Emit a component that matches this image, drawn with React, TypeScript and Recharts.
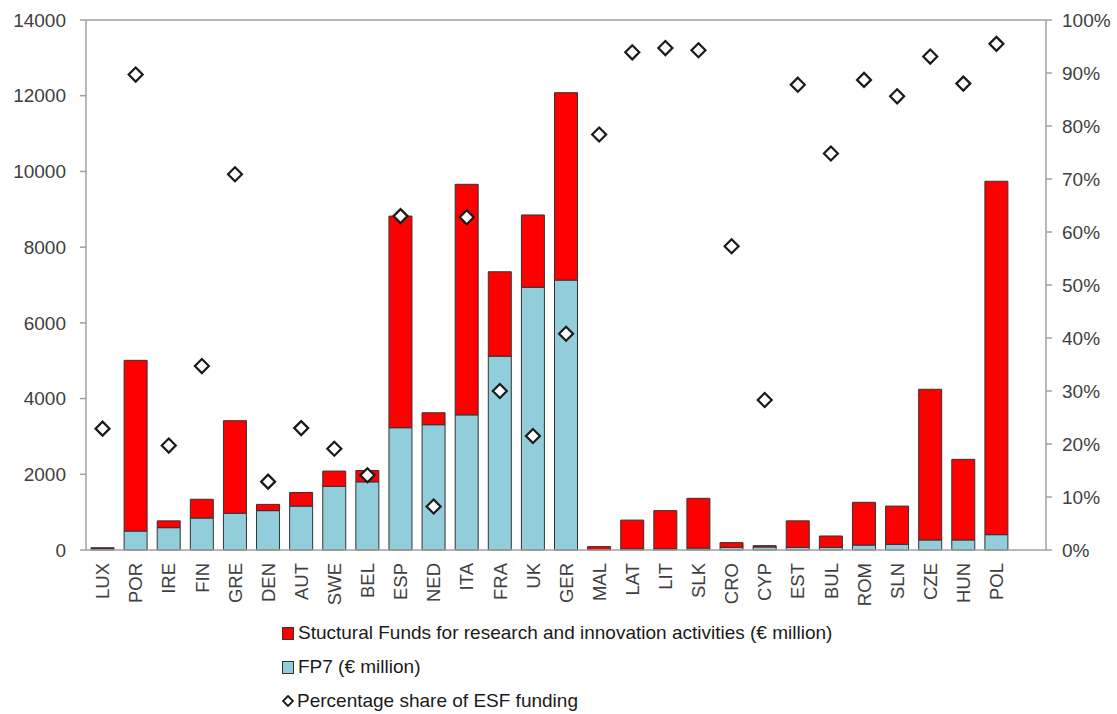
import React from 'react';
import { ComposedChart, Bar, Line, XAxis, YAxis, ReferenceLine } from 'recharts';

const countries = [
  'LUX', 'POR', 'IRE', 'FIN', 'GRE', 'DEN', 'AUT', 'SWE', 'BEL', 'ESP', 'NED', 'ITA', 'FRA', 'UK',
  'GER', 'MAL', 'LAT', 'LIT', 'SLK', 'CRO', 'CYP', 'EST', 'BUL', 'ROM', 'SLN', 'CZE', 'HUN', 'POL',
];
// FP7 (€ million)
const fp7 = [
  35, 500, 590, 845, 970, 1040, 1160, 1680, 1800, 3230, 3310, 3570, 5120, 6940,
  7130, 15, 30, 30, 50, 70, 80, 70, 70, 130, 150, 265, 265, 405,
];
// Structural Funds for research and innovation (€ million)
const structuralFunds = [
  25, 4510, 180, 495, 2445, 165, 360, 405, 300, 5590, 315, 6090, 2230, 1910,
  4950, 75, 760, 1010, 1315, 125, 35, 700, 300, 1130, 1010, 3980, 2130, 9335,
];
// Percentage share of ESF funding
const esfShare = [
  22.9, 89.7, 19.7, 34.7, 70.9, 12.9, 23.0, 19.1, 14.1, 63.0, 8.2, 62.8, 30.0, 21.5,
  40.8, 78.4, 93.9, 94.7, 94.3, 57.3, 28.3, 87.8, 74.8, 88.7, 85.6, 93.1, 88.0, 95.5,
];

const leftTicks = [0, 2000, 4000, 6000, 8000, 10000, 12000, 14000];
const rightTicks = [0, 10, 20, 30, 40, 50, 60, 70, 80, 90, 100];

const legendItems = [
  { label: 'Stuctural Funds for research and innovation activities (€ million)', color: '#FF0000' },
  { label: 'FP7 (€ million)', color: '#92CDDC' },
  { label: 'Percentage share of ESF funding', color: null },
];

const data = countries.map((c, i) => ({
  country: c,
  fp7: fp7[i],
  sf: structuralFunds[i],
  esf: esfShare[i],
}));

const FONT = '"Liberation Sans", Arial, sans-serif';
const AXIS = '#A0A0A0';
const TEXT = '#404040';

const Diamond = (props: any) => {
  const { cx, cy } = props;
  if (cx == null || cy == null) return null;
  const r = 7;
  return (
    <path
      d={`M${cx},${cy - r} L${cx + r},${cy} L${cx},${cy + r} L${cx - r},${cy} Z`}
      fill="#FFFFFF"
      stroke="#1A1A1A"
      strokeWidth={2.2}
    />
  );
};

const CountryTick = (props: any) => {
  const { x, y, payload } = props;
  return (
    <g transform={`translate(${x},${y + 5})`}>
      <text
        transform="rotate(-90)"
        textAnchor="end"
        dy="0.36em"
        fontSize={18.5}
        fontFamily={FONT}
        fill={TEXT}
      >
        {payload.value}
      </text>
    </g>
  );
};

export default function App() {
  return (
    <div style={{ position: 'absolute', left: 0, top: 0, width: 1117, height: 714, background: '#fff', fontFamily: FONT }}>
      <ComposedChart
        width={1117}
        height={620}
        data={data}
        margin={{ top: 20, right: 0, bottom: 0, left: 0 }}
      >
        <XAxis
          dataKey="country"
          interval={0}
          height={70}
          padding={{ left: 0, right: 33 }}
          tickLine={false}
          stroke={AXIS}
          strokeWidth={1.5}
          tick={<CountryTick />}
        />
        <YAxis
          yAxisId="left"
          width={86}
          domain={[0, 14000]}
          ticks={leftTicks}
          stroke={AXIS}
          strokeWidth={1.5}
          tickSize={6}
          tickMargin={14}
          tick={{ fontSize: 19, fill: TEXT, fontFamily: FONT }}
        />
        <YAxis
          yAxisId="right"
          orientation="right"
          width={71}
          domain={[0, 100]}
          ticks={rightTicks}
          tickFormatter={(v: number) => `${v}%`}
          stroke={AXIS}
          strokeWidth={1.5}
          tickSize={6}
          tickMargin={10}
          tick={{ fontSize: 19, fill: TEXT, fontFamily: FONT }}
        />
        <ReferenceLine yAxisId="left" y={14000} stroke={AXIS} strokeWidth={1.5} />
        <Bar
          yAxisId="left"
          dataKey="fp7"
          stackId="a"
          fill="#92CDDC"
          stroke="#333333"
          strokeWidth={1}
          barSize={23}
          isAnimationActive={false}
        />
        <Bar
          yAxisId="left"
          dataKey="sf"
          stackId="a"
          fill="#FF0000"
          stroke="#333333"
          strokeWidth={1}
          barSize={23}
          isAnimationActive={false}
        />
        <Line
          yAxisId="right"
          dataKey="esf"
          stroke="none"
          dot={<Diamond />}
          activeDot={false}
          isAnimationActive={false}
        />
      </ComposedChart>
      <div style={{ position: 'absolute', left: 282, top: 616 }}>
        {legendItems.map((item) => (
          <div key={item.label} style={{ display: 'flex', alignItems: 'center', height: 34, fontSize: 19, color: '#1A1A1A' }}>
            {item.color ? (
              <span style={{ width: 10, height: 11, background: item.color, border: '1px solid #333', marginRight: 4, display: 'inline-block' }} />
            ) : (
              <svg width={12} height={12} style={{ marginRight: 3 }}>
                <path d="M6,1 L11,6 L6,11 L1,6 Z" fill="#fff" stroke="#1A1A1A" strokeWidth={1.8} />
              </svg>
            )}
            <span>{item.label}</span>
          </div>
        ))}
      </div>
    </div>
  );
}
